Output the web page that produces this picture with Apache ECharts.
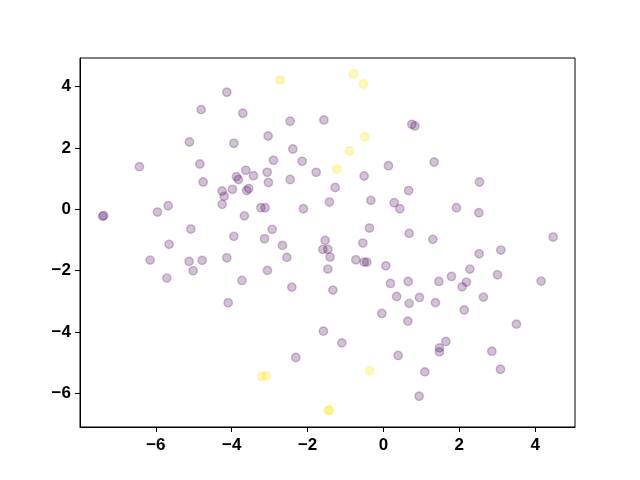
<!DOCTYPE html>
<html>
<head>
<meta charset="utf-8">
<script src="https://cdn.jsdelivr.net/npm/echarts@6/dist/echarts.min.js"></script>
<style>
  html, body { margin: 0; padding: 0; background: #fff; }
  #chart { width: 640px; height: 480px; }
</style>
</head>
<body>
<div id="chart"></div>
<script>
// class 0 points (purple)
var purplePoints = [
  [-7.403, -0.228], [-7.377, -0.202], [-6.433, 1.389], [-5.958, -0.088], [-5.676, 0.117],
  [-6.151, -1.653], [-5.650, -1.141], [-5.711, -2.240], [-5.115, 2.194], [-4.806, 3.248],
  [-4.840, 1.477], [-4.753, 0.890], [-5.078, -0.642], [-5.123, -1.695], [-5.017, -2.002],
  [-4.780, -1.663], [-4.129, 3.815], [-3.707, 3.130], [-3.944, 2.152], [-4.253, 0.597],
  [-4.200, 0.424], [-4.253, 0.163], [-3.981, 0.652], [-3.876, 1.063], [-3.823, 0.972],
  [-3.628, 1.272], [-3.607, 0.613], [-3.554, 0.678], [-3.427, 1.096], [-3.667, -0.212],
  [-3.944, -0.880], [-4.129, -1.578], [-3.731, -2.315], [-4.094, -3.045], [-3.232, 0.052],
  [-3.119, 0.052], [-3.137, -0.959], [-2.934, -0.652], [-3.058, -1.989], [-3.040, 2.390],
  [-3.032, 0.874], [-3.066, 1.206], [-2.900, 1.598], [-2.460, 2.869], [-2.389, 1.966],
  [-2.460, 0.972], [-2.663, -1.174], [-2.547, -1.565], [-2.415, -2.533], [-2.310, -4.826],
  [-2.143, 1.565], [-2.109, 0.020], [-1.774, 1.206], [-1.571, 2.912], [-1.537, -1.011],
  [-1.598, -1.304], [-1.466, -1.304], [-1.405, -1.555], [-1.466, -1.947], [-1.334, -2.631],
  [-1.582, -3.968], [-1.097, -4.350], [-1.273, 0.711], [-1.424, 0.238], [-0.728, -1.643],
  [-0.509, 1.086], [-0.543, -1.099], [-0.509, -1.718], [-0.438, -1.718], [-0.369, -0.610],
  [-0.332, 0.293], [-0.042, -3.391], [0.132, 1.422], [0.063, -1.839], [0.185, -2.413],
  [0.282, 0.215], [0.432, 0.020], [0.348, -2.837], [0.388, -4.760], [0.664, 0.613],
  [0.651, -2.348], [0.678, -3.062], [0.643, -3.642], [0.678, -0.783], [0.949, -2.869],
  [0.749, 2.771], [0.828, 2.716], [0.941, -6.087], [1.091, -5.295], [1.337, 1.542],
  [1.302, -0.978], [1.371, -3.039], [1.461, -2.348], [1.476, -4.513], [1.476, -4.643],
  [1.645, -4.304], [1.793, -2.185], [1.925, 0.052], [2.075, -2.524], [2.128, -3.277],
  [2.188, -2.370], [2.278, -1.947], [2.515, -0.111], [2.531, 0.890], [2.523, -1.448],
  [2.636, -2.859], [2.858, -4.620], [3.006, -2.132], [3.095, -1.327], [3.085, -5.207],
  [3.506, -3.740], [4.158, -2.338], [4.474, -0.903]
];

// class 1 points (yellow)
var yellowPoints = [
  [-2.723, 4.216], [-0.791, 4.411], [-0.527, 4.085], [-0.490, 2.357], [-0.896, 1.901],
  [-1.229, 1.314], [-3.206, -5.445], [-3.093, -5.426], [-0.359, -5.262], [-1.440, -6.544],
  [-1.440, -6.544]
];

var xRange = [-8, 5.05];
var yRange = [-7.09, 4.93];

var myChart = echarts.init(document.getElementById('chart'));

var tickFont = {
  fontFamily: '"Liberation Sans", Arial, sans-serif',
  fontWeight: 'bold',
  fontSize: 17,
  color: '#000',
  formatter: function (v) { return String(v).replace('-', '\u2212'); }
};

var option = {
  animation: false,
  grid: {
    left: 80,
    right: 65,
    top: 58,
    bottom: 53,
    show: true,
    borderColor: '#000',
    borderWidth: 1,
    containLabel: false
  },
  xAxis: {
    type: 'value',
    min: xRange[0],
    max: xRange[1],
    interval: 2,
    splitLine: { show: false },
    axisLine: { show: true, onZero: false, lineStyle: { color: '#000', width: 1 } },
    axisTick: { show: true, inside: false, length: 5, lineStyle: { color: '#000' } },
    axisLabel: Object.assign({ margin: 10, showMinLabel: false, showMaxLabel: false }, tickFont)
  },
  yAxis: {
    type: 'value',
    min: yRange[0],
    max: yRange[1],
    splitNumber: 6,
    splitLine: { show: false },
    axisLine: { show: true, onZero: false, lineStyle: { color: '#000', width: 1 } },
    axisTick: { show: true, inside: false, length: 5, lineStyle: { color: '#000' } },
    axisLabel: Object.assign({ margin: 9, showMinLabel: false, showMaxLabel: false }, tickFont)
  },
  series: [
    {
      type: 'scatter',
      data: purplePoints,
      symbolSize: 8.4,
      itemStyle: {
        color: 'rgba(68,1,84,0.3)',
        borderColor: 'rgba(68,1,84,0.3)',
        borderWidth: 1.4
      }
    },
    {
      type: 'scatter',
      data: yellowPoints,
      symbolSize: 8.4,
      itemStyle: {
        color: 'rgba(253,231,37,0.38)',
        borderColor: 'rgba(253,231,37,0.38)',
        borderWidth: 1.4
      }
    }
  ]
};
myChart.setOption(option);
</script>
</body>
</html>
